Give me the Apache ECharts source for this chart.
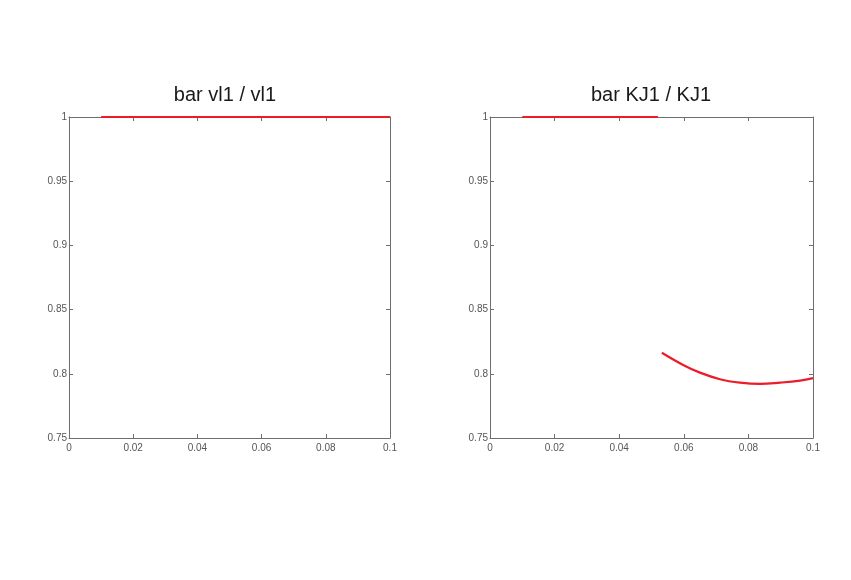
<!DOCTYPE html>
<html><head><meta charset="utf-8">
<script src="https://cdn.jsdelivr.net/npm/echarts@6/dist/echarts.min.js"></script>
<style>html,body{margin:0;padding:0;background:#fff}#c{width:851px;height:580px}</style>
</head><body><div id="c"></div>
<script>
const titles = ['bar vl1 / vl1', 'bar KJ1 / KJ1'];
const xTicks = [0, 0.02, 0.04, 0.06, 0.08, 0.1];
const yTicks = [0.75, 0.8, 0.85, 0.9, 0.95, 1];
const leftLineX = [0.01, 0.1];
const leftLineY = [1, 1];
const rightFlatX = [0.01, 0.052];
const rightFlatY = [1, 1];
const rightCurveX = [0.0532, 0.0598, 0.0650, 0.0712, 0.0774, 0.0836, 0.0898, 0.0960, 0.1];
const rightCurveY = [0.8164, 0.8069, 0.8009, 0.7958, 0.7931, 0.7921, 0.7931, 0.7947, 0.7966];

const zip = (xs, ys) => xs.map((x, i) => [x, ys[i]]);
const axisColor = '#6e6e6e';
const font = 'Helvetica, "Liberation Sans", Arial, sans-serif';
const grids = [
  {left: 69, top: 117, width: 321, height: 321},
  {left: 490, top: 117, width: 323, height: 321}
];
const fmt = v => {
  const s = String(+v.toFixed(2));
  return (xTicks.includes(+s) || yTicks.includes(+s)) ? s : '';
};
const xAxes = [], yAxes = [];
grids.forEach((g, i) => {
  const common = {min: 0, max: 0.1, interval: 0.02, gridIndex: i, splitLine: {show: false},
    axisLine: {onZero: false, lineStyle: {color: axisColor, width: 1}},
    axisTick: {inside: true, length: 4, lineStyle: {color: axisColor}}};
  xAxes.push(Object.assign({}, common, {type: 'value', position: 'bottom',
    axisLabel: {color: '#555', fontSize: 10, fontFamily: font, margin: 5, formatter: fmt}}));
  xAxes.push(Object.assign({}, common, {type: 'value', position: 'top', axisLabel: {show: false}}));
  const ycommon = {type: 'value', min: 0.75, max: 1, interval: 0.05, gridIndex: i, splitLine: {show: false},
    axisLine: {onZero: false, lineStyle: {color: axisColor, width: 1}},
    axisTick: {inside: true, length: 4, lineStyle: {color: axisColor}}};
  yAxes.push(Object.assign({}, ycommon, {position: 'left',
    axisLabel: {color: '#555', fontSize: 10, fontFamily: font, margin: 2, formatter: fmt}}));
  yAxes.push(Object.assign({}, ycommon, {position: 'right', axisLabel: {show: false}}));
});
const lineStyle = {color: '#ec1c2b', width: 2.2};
const mk = (data, gi, smooth) => ({type: 'line', xAxisIndex: gi * 2, yAxisIndex: gi * 2, data,
  showSymbol: false, symbol: 'none', smooth: smooth ? 0.4 : false, lineStyle, animation: false});
const titleStyle = {fontSize: 20, fontWeight: 'normal', color: '#1a1a1a', fontFamily: font};
const chart = echarts.init(document.getElementById('c'));
chart.setOption({
  animation: false,
  backgroundColor: '#fff',
  title: [
    {text: titles[0], left: 220, top: 80, textAlign: 'center', textStyle: titleStyle},
    {text: titles[1], left: 646, top: 80, textAlign: 'center', textStyle: titleStyle}
  ],
  grid: grids,
  xAxis: xAxes,
  yAxis: yAxes,
  series: [
    mk(zip(leftLineX, leftLineY), 0, false),
    mk(zip(rightFlatX, rightFlatY), 1, false),
    mk(zip(rightCurveX, rightCurveY), 1, true)
  ]
});
</script></body></html>
